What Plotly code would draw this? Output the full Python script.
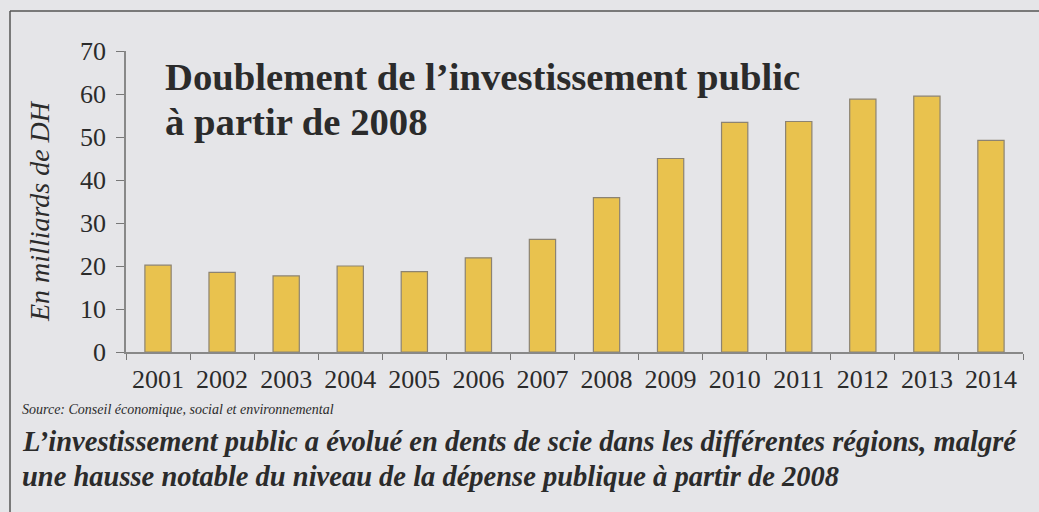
import plotly.graph_objects as go

years = ["2001", "2002", "2003", "2004", "2005", "2006", "2007",
         "2008", "2009", "2010", "2011", "2012", "2013", "2014"]
values = [20.2, 18.5, 17.7, 20.0, 18.7, 21.9, 26.2,
          35.9, 45.0, 53.4, 53.6, 58.8, 59.5, 49.2]
y_ticks = [0, 10, 20, 30, 40, 50, 60, 70]

W, H = 1039, 512
L, R, T, B = 126, 16, 51, 160
PW, PH = W - L - R, H - T - B


def px(x):
    return (x - L) / PW


def py(y):
    return (H - B - y) / PH


BG = "#e5e5e8"
TXT = "#2b2b2b"
SERIF = "Liberation Serif"

fig = go.Figure()
fig.add_trace(go.Bar(
    x=years, y=values,
    marker=dict(color="#e9c24e", line=dict(color="#8c8372", width=1.2)),
    width=0.41,
))

fig.update_layout(
    width=W, height=H,
    margin=dict(l=L, r=R, t=T, b=B),
    paper_bgcolor=BG, plot_bgcolor=BG,
    showlegend=False,
    font=dict(family=SERIF, color=TXT),
    xaxis=dict(
        type="category", tickson="boundaries", ticks="outside", ticklen=6,
        tickcolor="#777", showline=True, linecolor="#888", linewidth=1.5,
        showgrid=False, tickfont=dict(size=26, color=TXT, family=SERIF),
        ticklabelstandoff=3,
    ),
    yaxis=dict(
        range=[0, 70], tickvals=y_ticks, ticks="outside", ticklen=8,
        tickcolor="#777", showline=True, linecolor="#888", linewidth=1.5,
        showgrid=False, zeroline=False,
        tickfont=dict(size=26, color=TXT, family=SERIF),
        ticklabelstandoff=5,
    ),
)

# y axis title
fig.add_annotation(
    x=px(40), y=py(211), xref="paper", yref="paper",
    text="<i>En milliards de DH</i>", textangle=-90, showarrow=False,
    font=dict(size=28, color=TXT, family=SERIF),
    xanchor="center", yanchor="middle",
)

# title
fig.add_annotation(
    x=px(163), y=py(77), xref="paper", yref="paper",
    text="<b>Doublement de l\u2019investissement public</b>", showarrow=False,
    font=dict(size=38.7, color=TXT, family=SERIF),
    xanchor="left", yanchor="middle",
)
fig.add_annotation(
    x=px(163), y=py(122), xref="paper", yref="paper",
    text="<b>\u00e0 partir de 2008</b>", showarrow=False,
    font=dict(size=38.7, color=TXT, family=SERIF),
    xanchor="left", yanchor="middle",
)

# source
fig.add_annotation(
    x=px(20), y=py(409), xref="paper", yref="paper",
    text="<i>Source: Conseil \u00e9conomique, social et environnemental</i>",
    showarrow=False, font=dict(size=14, color=TXT, family=SERIF),
    xanchor="left", yanchor="middle",
)
# caption
fig.add_annotation(
    x=px(20), y=py(441), xref="paper", yref="paper",
    text="<b><i>L\u2019investissement public a \u00e9volu\u00e9 en dents de scie dans les diff\u00e9rentes r\u00e9gions, malgr\u00e9</i></b>",
    showarrow=False, font=dict(size=28.5, color=TXT, family=SERIF),
    xanchor="left", yanchor="middle",
)
fig.add_annotation(
    x=px(20), y=py(476), xref="paper", yref="paper",
    text="<b><i>une hausse notable du niveau de la d\u00e9pense publique \u00e0 partir de 2008</i></b>",
    showarrow=False, font=dict(size=28.5, color=TXT, family=SERIF),
    xanchor="left", yanchor="middle",
)

# frame
fig.add_shape(type="line", xref="paper", yref="paper",
              x0=px(10), x1=px(10), y0=py(11), y1=py(H + 5),
              line=dict(color="#555", width=1.5))
fig.add_shape(type="line", xref="paper", yref="paper",
              x0=px(10), x1=px(W + 5), y0=py(11), y1=py(11),
              line=dict(color="#555", width=1.5))

fig.write_html("out.html")
